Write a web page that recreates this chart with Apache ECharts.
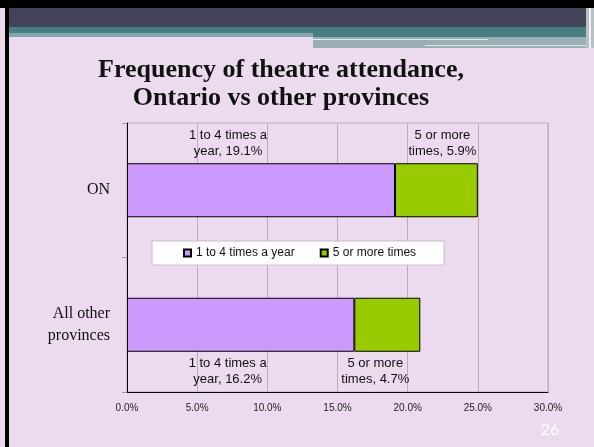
<!DOCTYPE html>
<html>
<head>
<meta charset="utf-8">
<script src="https://cdn.jsdelivr.net/npm/echarts@6/dist/echarts.min.js"></script>
<style>
  html, body { margin: 0; padding: 0; background: #ecdaee; }
  #chart { width: 594px; height: 447px; }
</style>
</head>
<body>
<div id="chart"></div>
<script>
// data
const categories = ['ON', 'All other provinces']
const seriesNames = ['1 to 4 times a year', '5 or more times']
const oneToFour = [19.1, 16.2]
const fiveOrMore = [5.9, 4.7]
const xTicks = [0, 5, 10, 15, 20, 25, 30]

// where Excel had the labels dragged to (px offset from segment centre)
const labelOffsets = [
  [[-33, 0], [-13, 0]],
  [[6, 0], [-12, 0]]
]

const wrap = (text, max) => {
  const words = text.split(' ')
  const lines = []
  let cur = ''
  words.forEach((w) => {
    if (!cur) cur = w
    else if ((cur + ' ' + w).length <= max) cur += ' ' + w
    else {
      lines.push(cur)
      cur = w
    }
  })
  if (cur) lines.push(cur)
  return lines.join('\n')
}

const makeData = (values, si) => {
  return values.map((v, i) => ({
    value: v,
    label: {
      position: i === 0 ? 'top' : 'bottom',
      offset: labelOffsets[si][i]
    }
  }))
}

const colors = ['#cc99ff', '#99cc00']
const seriesValues = [oneToFour, fiveOrMore]

const chart = echarts.init(document.getElementById('chart'))

const option = {
  backgroundColor: '#ecdaee',
  animation: false,
  graphic: [
    { type: 'rect', shape: { x: 0, y: 0, width: 594, height: 8 }, style: { fill: '#000' } },
    { type: 'rect', shape: { x: 5, y: 0, width: 4, height: 447 }, style: { fill: '#000' } },
    { type: 'rect', shape: { x: 9, y: 8, width: 585, height: 19 }, style: { fill: '#434459' } },
    { type: 'rect', shape: { x: 9, y: 27, width: 304, height: 6 }, style: { fill: '#467e81' } },
    { type: 'rect', shape: { x: 9, y: 33, width: 304, height: 4 }, style: { fill: '#86a6ac' } },
    { type: 'rect', shape: { x: 313, y: 27, width: 281, height: 10 }, style: { fill: '#467e81' } },
    { type: 'rect', shape: { x: 313, y: 37, width: 281, height: 11 }, style: { fill: '#9aaeb6' } },
    { type: 'rect', shape: { x: 313, y: 39, width: 175, height: 1 }, style: { fill: '#e3e8ec' } },
    { type: 'rect', shape: { x: 425, y: 45, width: 169, height: 1 }, style: { fill: '#e3e8ec' } },
    { type: 'rect', shape: { x: 586, y: 8, width: 8, height: 40 }, style: { fill: '#b9c0c8' } },
    { type: 'rect', shape: { x: 589, y: 8, width: 2, height: 40 }, style: { fill: '#eef0f2' } },
    {
      type: 'text',
      x: 281,
      y: 56,
      style: {
        text: 'Frequency of theatre attendance,\nOntario vs other provinces',
        fill: '#111',
        fontFamily: 'Liberation Serif',
        fontWeight: 'bold',
        fontSize: 26,
        lineHeight: 28,
        textAlign: 'center',
        textVerticalAlign: 'top'
      }
    },
    {
      type: 'text',
      x: 550,
      y: 430,
      style: {
        text: '26',
        fill: '#fff',
        fontFamily: 'Lato',
        fontSize: 16,
        textAlign: 'center',
        textVerticalAlign: 'middle'
      }
    }
  ],
  legend: {
    data: seriesNames,
    left: 152,
    top: 241,
    padding: [6, 28, 6, 31],
    itemGap: 25,
    itemWidth: 7,
    itemHeight: 7,
    icon: 'rect',
    backgroundColor: '#ffffff',
    borderColor: '#c9bccb',
    borderWidth: 1,
    borderRadius: 0,
    textStyle: {
      fontFamily: 'Liberation Sans',
      fontSize: 12,
      color: '#111'
    }
  },
  grid: {
    left: 127,
    right: 46,
    top: 123,
    bottom: 55,
    show: true,
    borderColor: '#bdaabf',
    borderWidth: 1
  },
  xAxis: {
    type: 'value',
    min: xTicks[0],
    max: xTicks[xTicks.length - 1],
    interval: xTicks[1] - xTicks[0],
    axisLine: { show: true, lineStyle: { color: '#000', width: 1 } },
    axisTick: { show: false },
    splitLine: { show: true, lineStyle: { color: '#bdaabf', width: 1 } },
    axisLabel: {
      margin: 11,
      fontFamily: 'Liberation Sans',
      fontSize: 10,
      color: '#222',
      formatter: (v) => v.toFixed(1) + '%'
    }
  },
  yAxis: {
    type: 'category',
    inverse: true,
    data: categories,
    axisLine: { show: true, lineStyle: { color: '#000', width: 1 } },
    axisTick: { show: true, length: 5, lineStyle: { color: '#999' } },
    axisLabel: {
      margin: 17,
      fontFamily: 'Liberation Serif',
      fontSize: 16,
      lineHeight: 22,
      color: '#111',
      formatter: (v) => wrap(v, 10)
    }
  },
  series: seriesNames.map((name, si) => ({
    name: name,
    type: 'bar',
    stack: 'total',
    barWidth: 54,
    data: makeData(seriesValues[si], si),
    itemStyle: {
      color: colors[si],
      borderColor: '#000',
      borderWidth: 1
    },
    label: {
      show: true,
      distance: 4,
      fontFamily: 'Liberation Sans',
      fontSize: 13,
      lineHeight: 16,
      color: '#111',
      formatter: (p) => wrap(p.seriesName + ', ' + p.value.toFixed(1) + '%', 14)
    }
  }))
}

chart.setOption(option)
</script>
</body>
</html>
